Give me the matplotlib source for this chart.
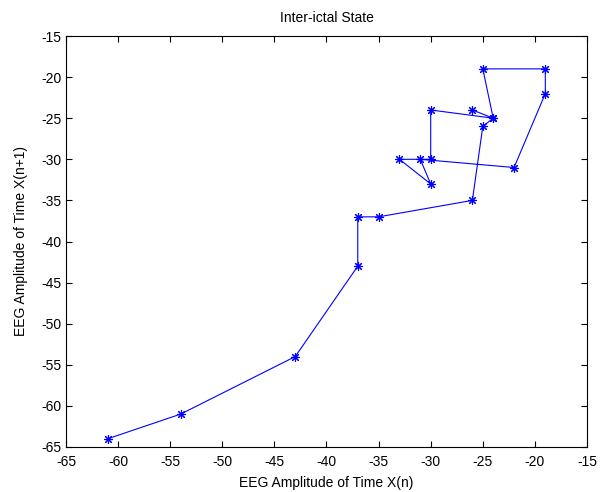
import numpy as np
from matplotlib import pyplot as plt

# EEG samples, inter-ictal segment; phase plot of X(n) against X(n+1)
eeg_samples = [-26, -24, -25, -19, -19, -22, -31, -30, -33, -30, -30,
               -24, -25, -26, -35, -37, -37, -43, -54, -61, -64]
x_ticks = [-65, -60, -55, -50, -45, -40, -35, -30, -25, -20, -15]
y_ticks = [-65, -60, -55, -50, -45, -40, -35, -30, -25, -20, -15]

plt.rcParams['font.family'] = ['Liberation Sans', 'DejaVu Sans']
plt.rcParams['font.size'] = 10
plt.rcParams['axes.unicode_minus'] = False

x_n = np.array(eeg_samples[:-1])
x_n1 = np.array(eeg_samples[1:])

fig = plt.figure(figsize=(6.02, 4.92), dpi=100)
ax = fig.add_axes([66 / 602, 45 / 492, 521 / 602, 411 / 492])
ax.plot(x_n, x_n1, color='blue', linewidth=0.8, marker=(8, 2, 0), markersize=6.5,
        markeredgewidth=0.8)

ax.set_xlim(-65, -15)
ax.set_ylim(-65, -15)
ax.set_xticks(x_ticks)
ax.set_yticks(y_ticks)
ax.tick_params(direction='in', top=True, right=True, length=4, width=0.8)
ax.tick_params(axis='x', pad=6)
ax.tick_params(axis='y', pad=3)
for side in ax.spines.values():
    side.set_linewidth(0.8)

ax.set_title("Inter-ictal State", fontsize=10, pad=10)
ax.set_xlabel("EEG Amplitude of Time X(n)", labelpad=5)
ax.set_ylabel("EEG Amplitude of Time X(n+1)", labelpad=10)

plt.savefig("out.png", dpi=100)
